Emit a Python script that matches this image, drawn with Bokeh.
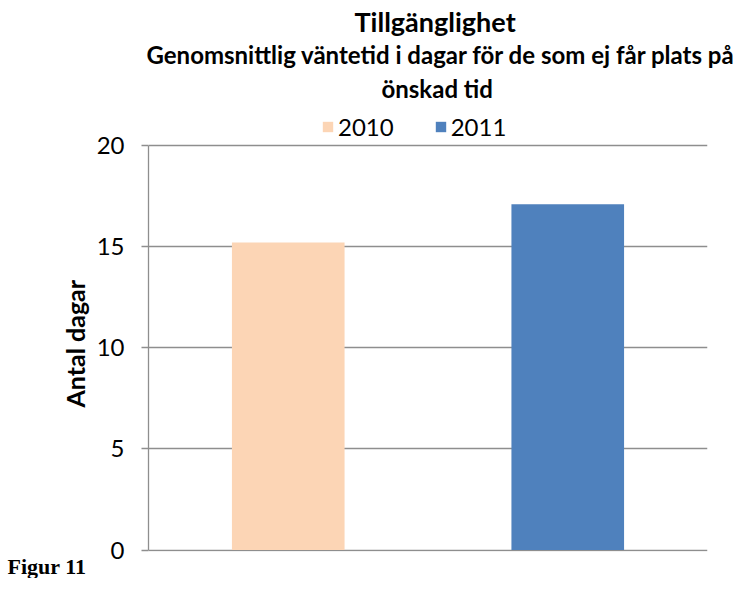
from bokeh.plotting import figure
from bokeh.models import ColumnDataSource, Legend, LegendItem, FixedTicker, Range1d, Title
from bokeh.embed import file_html
from bokeh.resources import INLINE

years = ["2010", "2011"]
values = [15.2, 17.1]
colors = ["#FCD5B5", "#4F81BD"]
y_ticks = [0, 5, 10, 15, 20]
title_text = "Tillgänglighet"
subtitle_lines = ["Genomsnittlig väntetid i dagar för de som ej får plats på", "önskad tid"]
y_label = "Antal dagar"
fig_label = "Figur 11"

n = len(years)
xs = [i + 0.5 for i in range(n)]
source = ColumnDataSource(dict(x=xs, year=years, value=values, color=colors))

# geometry in pixels
left_px, top_px, frame_h = 148, 105, 446
y20_px, y0_px = 145.0, 549.5
unit_px = (y0_px - y20_px) / (y_ticks[-1] - y_ticks[0])
y_start = y_ticks[0] - (top_px + frame_h - y0_px) / unit_px
y_end = y_ticks[-1] + (y20_px - top_px) / unit_px

p = figure(x_range=Range1d(0, n), y_range=Range1d(y_start, y_end),
           frame_width=559, frame_height=frame_h,
           min_border_left=left_px, min_border_top=top_px, min_border_right=26, min_border_bottom=25,
           output_backend="svg", toolbar_location=None, title=None)
p.outline_line_color = None
p.background_fill_color = "white"

gray = "#8E8E8E"
r = p.vbar(x="x", top="value", width=0.403, color="color", line_color=None, source=source)

p.xaxis.visible = False
p.xgrid.grid_line_color = None
p.ygrid.grid_line_color = gray
p.ygrid.grid_line_width = 1.3
p.yaxis.ticker = FixedTicker(ticks=y_ticks)
p.yaxis.bounds = (y_ticks[0], y_ticks[-1])
p.yaxis.axis_line_color = gray
p.yaxis.axis_line_width = 1.3
p.yaxis.major_tick_line_color = gray
p.yaxis.major_tick_line_width = 1.3
p.yaxis.major_tick_out = 7
p.yaxis.major_tick_in = 0
p.yaxis.minor_tick_line_color = None
p.yaxis.major_label_standoff = 17
p.yaxis.major_label_text_font = "Lato"
p.yaxis.major_label_text_font_size = "24px"
p.yaxis.major_label_text_color = "black"

# y-axis title: starts 144 px above the frame bottom, reading upwards
p.add_layout(Title(text=y_label, align="left", offset=144, standoff=7,
                   text_font="Lato", text_font_style="bold", text_font_size="25px",
                   text_color="black"), "left")

legend = Legend(items=[LegendItem(label=years[i], renderers=[r], index=i) for i in range(n)],
                orientation="horizontal", location=(173, top_px + frame_h - 141),
                glyph_width=13, glyph_height=13, label_standoff=4, spacing=40,
                padding=0, margin=0, border_line_alpha=0, background_fill_alpha=0,
                label_text_font="Lato", label_text_font_size="24px", label_text_color="black")
p.add_layout(legend, "center")

def add_title(txt, size, offset, standoff):
    p.add_layout(Title(text=txt, align="left", offset=offset, standoff=standoff,
                       text_font="Lato", text_font_style="bold", text_font_size=size,
                       text_color="black"), "above")

add_title(subtitle_lines[1], "24px", 233, 6)
add_title(subtitle_lines[0], "24px", -2, 0)
add_title(title_text, "27px", 206, 0)

p.add_layout(Title(text=fig_label, align="left", offset=-141, standoff=0,
                   text_font="Liberation Serif", text_font_style="bold",
                   text_font_size="22px", text_color="black"), "below")

open("out.html", "w").write(file_html(p, INLINE))
